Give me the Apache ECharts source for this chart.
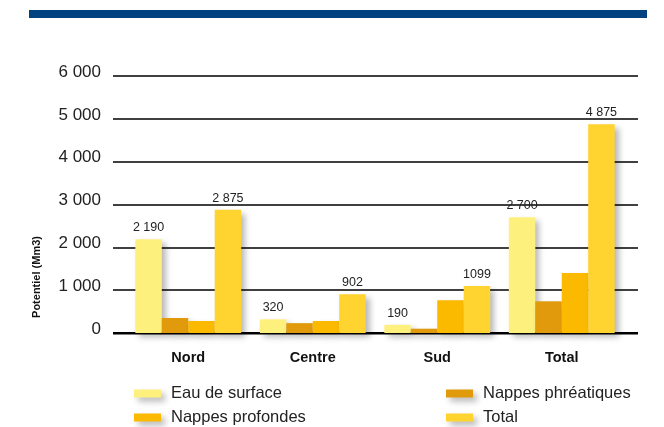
<!DOCTYPE html>
<html>
<head>
<meta charset="utf-8">
<script src="https://cdn.jsdelivr.net/npm/echarts@6/dist/echarts.min.js"></script>
<style>
  html, body { margin: 0; padding: 0; background: #fff; }
  #chart { width: 664px; height: 427px; }
</style>
</head>
<body>
<div id="chart"></div>
<script>
// categories and values
var regions = ['Nord', 'Centre', 'Sud', 'Total'];
var eauSurface = [2190, 320, 190, 2700];
var nappesPhreatiques = [350, 230, 100, 740];
var nappesProfondes = [280, 280, 765, 1400];
var total = [2875, 902, 1099, 4875];
var eauLabels = ['2 190', '320', '190', '2 700'];
var totalLabels = ['2 875', '902', '1099', '4 875'];
var yTicks = ['0', '1 000', '2 000', '3 000', '4 000', '5 000', '6 000'];

var font = 'Liberation Sans, Arial, sans-serif';
var shadow = {
    shadowBlur: 6,
    shadowOffsetX: 4,
    shadowOffsetY: 4,
    shadowColor: 'rgba(0,0,0,0.28)'
};

function barSeries(name, data, color, labels) {
    var s = {
        name: name,
        type: 'bar',
        xAxisIndex: 1,
        yAxisIndex: 1,
        data: data,
        barGap: '0%',
        barCategoryGap: '15%',
        itemStyle: Object.assign({ color: color }, shadow)
    };
    if (labels) {
        s.label = {
            show: true,
            position: 'top',
            distance: 5,
            color: '#222',
            fontFamily: font,
            fontSize: 12.5,
            formatter: function (p) { return labels[p.dataIndex]; }
        };
    }
    return s;
}

// one legend per entry so the two columns sit where the original has them
function legendItem(name, left, top) {
    return {
        data: [name],
        left: left, top: top,
        padding: 0,
        itemWidth: 27, itemHeight: 8,
        icon: 'rect',
        itemStyle: shadow,
        textStyle: {
            fontSize: 16.5, color: '#222', fontFamily: font,
            padding: [0, 0, 0, 5]
        }
    };
}

var myChart = echarts.init(document.getElementById('chart'));
myChart.setOption({
    animation: false,
    textStyle: { fontFamily: font },
    grid: [
        // grid for the horizontal rules and tick labels
        { left: 113, right: 26, top: 76, bottom: 94 },
        // grid for the bars
        { left: 126, right: 40, top: 76, bottom: 94 }
    ],
    xAxis: [
        {
            type: 'category', gridIndex: 0, data: regions,
            axisLine: { show: false }, axisTick: { show: false },
            axisLabel: { show: false }, splitLine: { show: false }
        },
        {
            type: 'category', gridIndex: 1, data: regions,
            axisLine: { show: false }, axisTick: { show: false },
            axisLabel: {
                color: '#111', fontWeight: 'bold', fontSize: 14.5,
                fontFamily: font, margin: 17
            },
            splitLine: { show: false }
        }
    ],
    yAxis: [
        {
            type: 'value', gridIndex: 0, min: 0, max: 6000, interval: 1000,
            axisLine: { show: false }, axisTick: { show: false },
            axisLabel: {
                color: '#222', fontSize: 17, fontFamily: font, margin: 12,
                verticalAlign: 'bottom', lineHeight: 8,
                formatter: function (v) { return yTicks[v / 1000]; }
            },
            splitLine: { lineStyle: { color: '#000', width: 1.6 } }
        },
        {
            type: 'value', gridIndex: 1, min: 0, max: 6000, interval: 1000,
            axisLine: { show: false }, axisTick: { show: false },
            axisLabel: { show: false }, splitLine: { show: false }
        }
    ],
    legend: [
        legendItem('Eau de surface', 134, 385),
        legendItem('Nappes profondes', 134, 409),
        legendItem('Nappes phréatiques', 446, 385),
        legendItem('Total', 446, 409)
    ],
    graphic: [
        {
            type: 'rect', left: 29, top: 10,
            shape: { width: 618, height: 8 },
            style: { fill: '#00427F' }
        },
        {
            // baseline
            type: 'rect', left: 113, top: 332,
            shape: { width: 525, height: 2.5 },
            style: { fill: '#000' }
        },
        {
            type: 'text', x: 37, y: 277, rotation: Math.PI / 2,
            style: {
                text: 'Potentiel (Mm3)', fill: '#111',
                font: 'bold 11px Liberation Sans, Arial, sans-serif',
                textAlign: 'center', textVerticalAlign: 'middle'
            }
        }
    ],
    series: [
        barSeries('Eau de surface', eauSurface, '#FEF07C', eauLabels),
        barSeries('Nappes phréatiques', nappesPhreatiques, '#E09A0B'),
        barSeries('Nappes profondes', nappesProfondes, '#FBB900'),
        barSeries('Total', total, '#FFD330', totalLabels)
    ]
});
</script>
</body>
</html>
